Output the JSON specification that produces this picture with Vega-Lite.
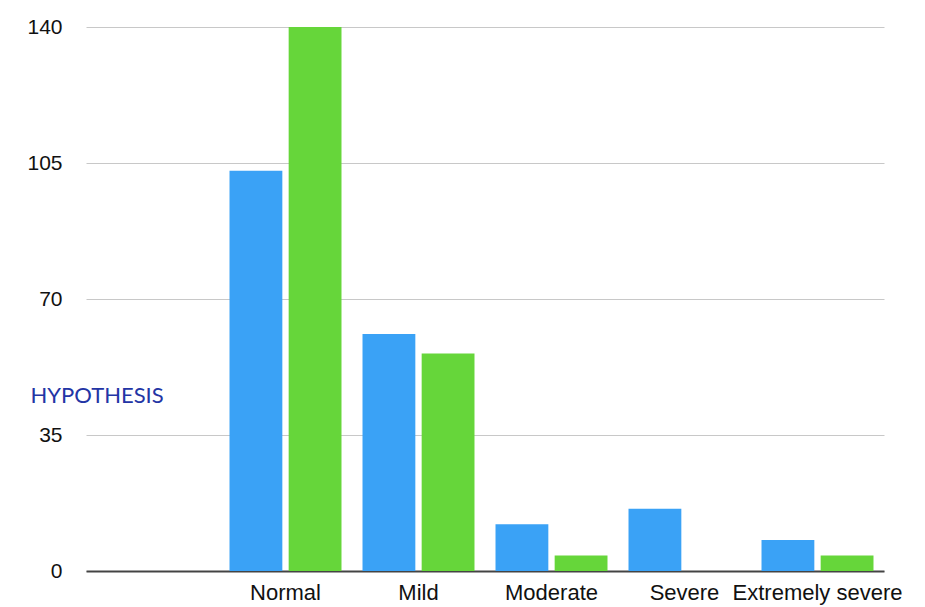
{
  "$schema": "https://vega.github.io/schema/vega-lite/v6.json",
  "width": 798,
  "height": 544,
  "autosize": {"type": "none"},
  "padding": {"left": 86, "top": 27, "right": 41, "bottom": 36},
  "background": "white",
  "data": {
    "values": [
      {"category": "Normal", "series": "Series 1", "value": 103},
      {"category": "Normal", "series": "Series 2", "value": 140},
      {"category": "Mild", "series": "Series 1", "value": 61},
      {"category": "Mild", "series": "Series 2", "value": 56},
      {"category": "Moderate", "series": "Series 1", "value": 12},
      {"category": "Moderate", "series": "Series 2", "value": 4},
      {"category": "Severe", "series": "Series 1", "value": 16},
      {"category": "Severe", "series": "Series 2", "value": 0},
      {"category": "Extremely severe", "series": "Series 1", "value": 8},
      {"category": "Extremely severe", "series": "Series 2", "value": 4}
    ]
  },
  "mark": {"type": "bar"},
  "encoding": {
    "x": {
      "field": "category",
      "type": "nominal",
      "sort": null,
      "scale": {"domain": [" ", "Normal", "Mild", "Moderate", "Severe", "Extremely severe"], "paddingInner": 0.158, "paddingOuter": 0.079},
      "axis": {
        "title": null,
        "labelAngle": 0,
        "ticks": false,
        "domainColor": "#444444",
        "domainWidth": 2,
        "labelFont": "Liberation Sans",
        "labelFontSize": 22,
        "labelColor": "#111111",
        "labelPadding": 11,
        "grid": false
      }
    },
    "xOffset": {
      "field": "series",
      "type": "nominal",
      "scale": {"paddingInner": 0.107, "paddingOuter": 0}
    },
    "y": {
      "field": "value",
      "type": "quantitative",
      "scale": {"domain": [0, 140], "nice": false},
      "axis": {
        "values": [0, 35, 70, 105, 140],
        "domain": false,
        "ticks": false,
        "gridColor": "#c8c8c8",
        "gridWidth": 1,
        "labelFont": "Liberation Sans",
        "labelFontSize": 21,
        "labelColor": "#111111",
        "labelPadding": 24,
        "title": "HYPOTHESIS",
        "titleAngle": 0,
        "titleX": -56,
        "titleY": 368,
        "titleAlign": "left",
        "titleBaseline": "middle",
        "titleFont": "Lato",
        "titleFontSize": 22,
        "titleFontWeight": "normal",
        "titleColor": "#2335A5"
      }
    },
    "color": {
      "field": "series",
      "type": "nominal",
      "scale": {"domain": ["Series 1", "Series 2"], "range": ["#3AA2F6", "#66D63A"]},
      "legend": null
    }
  },
  "config": {"view": {"stroke": null}}
}
